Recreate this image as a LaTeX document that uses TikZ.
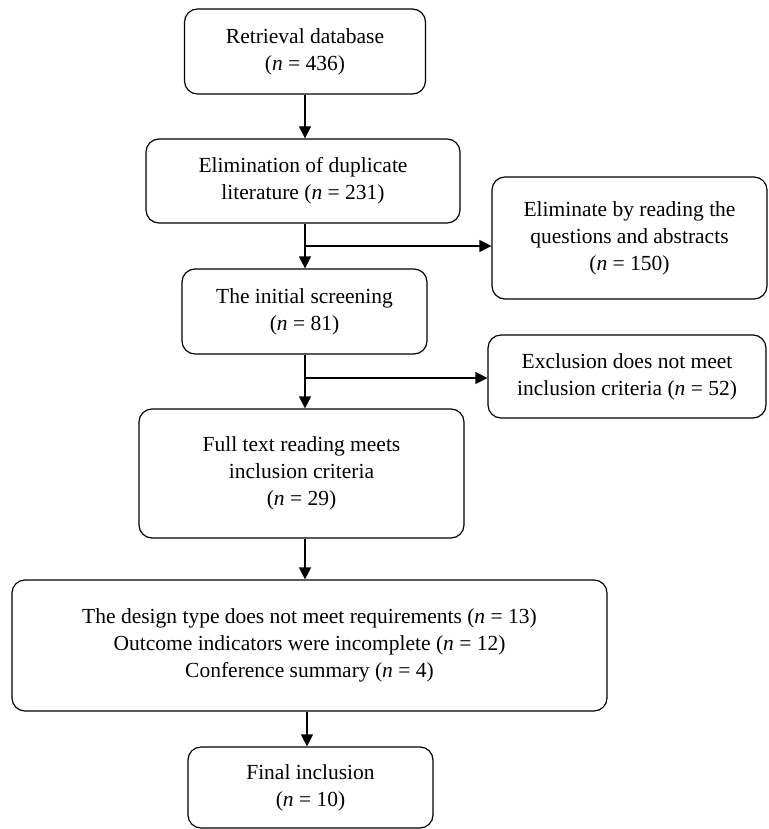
\documentclass[tikz,border=0pt]{standalone}
\usepackage{fontspec}
\setmainfont{Liberation Serif}
\usetikzlibrary{arrows.meta}

\tikzset{
  box/.style={draw, line width=1.2pt, rounded corners=13pt, align=center,
    inner sep=0pt, font=\fontsize{21.5}{27}\selectfont},
  arr/.style={line width=1.2pt, -{Triangle[length=12pt,width=12pt]}}
}

\begin{document}
\begin{tikzpicture}[x=1pt,y=-1pt]
\useasboundingbox (0,0) rectangle (768,829);
\node[box, minimum width=241pt, minimum height=85pt] (b1) at (305,51.5) {Retrieval database\\(\textit{n} = 436)};
\node[box, minimum width=314pt, minimum height=84pt] (b2) at (303,181) {Elimination of duplicate\\literature (\textit{n} = 231)};
\node[box, minimum width=275pt, minimum height=122pt] (e1) at (629.5,238) {Eliminate by reading the\\questions and abstracts\\(\textit{n} = 150)};
\node[box, minimum width=245pt, minimum height=85pt] (b3) at (304.5,311.5) {The initial screening\\(\textit{n} = 81)};
\node[box, minimum width=278pt, minimum height=83pt] (e2) at (627,376.5) {Exclusion does not meet\\inclusion criteria (\textit{n} = 52)};
\node[box, minimum width=325pt, minimum height=129pt] (b4) at (301.5,473.5) {Full text reading meets\\inclusion criteria\\(\textit{n} = 29)};
\node[box, minimum width=595pt, minimum height=131pt] (b5) at (309.5,645.5) {The design type does not meet requirements (\textit{n} = 13)\\Outcome indicators were incomplete (\textit{n} = 12)\\Conference summary (\textit{n} = 4)};
\node[box, minimum width=245pt, minimum height=81pt] (b6) at (310.5,787.5) {Final inclusion\\(\textit{n} = 10)};
\coordinate (j1) at (305,246);
\coordinate (j2) at (305,378);
\foreach \a/\b in {b1/b2, b2/b3, b3/b4, b4/b5}
  \draw[arr] (305,0 |- \a.south) -- (305,0 |- \b.north);
\draw[arr] (b5.south -| 307,0) -- (b6.north -| 307,0);
\draw[arr] (j1) -- (j1 -| e1.west);
\draw[arr] (j2) -- (j2 -| e2.west);
\end{tikzpicture}
\end{document}
